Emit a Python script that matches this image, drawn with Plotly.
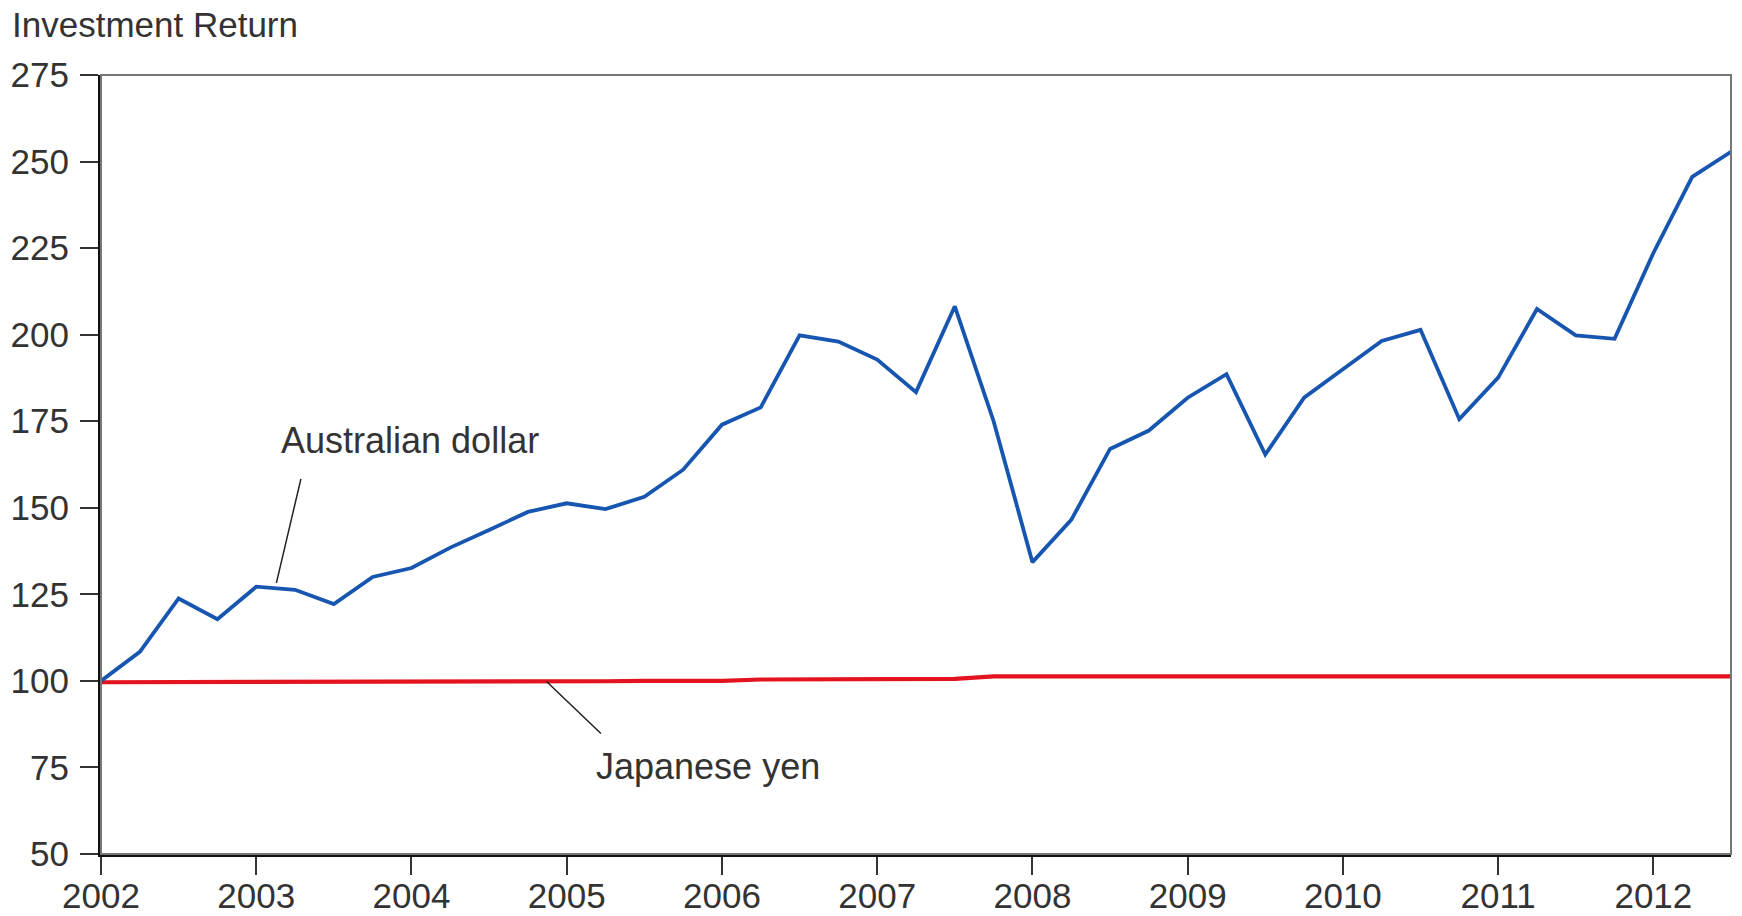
import plotly.graph_objects as go

quarters = [2002 + 0.25 * i for i in range(43)]

aud = [100, 108.4, 123.8, 117.8, 127.2, 126.3, 122.2, 130.0, 132.6, 138.5, 143.6, 148.8,
       151.3, 149.6, 153.2, 161.0, 174.0, 179.0, 199.8, 198.0, 192.8, 183.4, 208.2, 175.0,
       134.3, 146.5, 167.0, 172.3, 181.8, 188.6, 165.4, 181.8, 190.0, 198.2, 201.4, 175.6,
       187.6, 207.4, 199.8, 198.8, 223.6, 245.6, 252.8]

jpy = [99.6, 99.6, 99.6, 99.6, 99.7, 99.7, 99.7, 99.7, 99.8, 99.8, 99.8, 99.9,
       99.9, 99.9, 100.0, 100.0, 100.0, 100.4, 100.5, 100.5, 100.5, 100.6, 100.6, 101.3,
       101.3, 101.3, 101.2, 101.2, 101.1, 101.1, 101.0, 101.0, 101.0, 101.0, 101.0, 101.0,
       101.1, 101.1, 101.1, 101.2, 101.2, 101.3, 101.3]

year_ticks = list(range(2002, 2013))
y_ticks = [50, 75, 100, 125, 150, 175, 200, 225, 250, 275]

FONT = "Liberation Sans, Arial, Helvetica, sans-serif"
TXT = "#333333"

fig = go.Figure()
fig.add_trace(go.Scatter(x=quarters, y=jpy, mode="lines",
                         line=dict(color="#e3131f", width=4.2), name="Japanese yen"))
fig.add_trace(go.Scatter(x=quarters, y=aud, mode="lines",
                         line=dict(color="#1655b0", width=3.8), name="Australian dollar"))

fig.update_layout(
    width=1742, height=916,
    margin=dict(l=101, r=11, t=75, b=62),
    paper_bgcolor="white", plot_bgcolor="white",
    showlegend=False,
    font=dict(family=FONT, size=35, color=TXT),
    xaxis=dict(range=[2002, 2012.5], tickmode="array", tickvals=year_ticks,
               ticktext=[str(y) for y in year_ticks], automargin=False,
               showgrid=False, zeroline=False, showline=True, linecolor="#111111",
               linewidth=3, ticks="outside", ticklen=18, tickwidth=1.5,
               tickcolor="#333333", ticklabelstandoff=-9,
               tickfont=dict(size=35, color=TXT)),
    yaxis=dict(range=[50, 275], tickmode="array", tickvals=y_ticks, automargin=False,
               showgrid=False, zeroline=False, showline=True, linecolor="#111111",
               linewidth=3, ticks="outside", ticklen=18, tickwidth=1.5,
               tickcolor="#333333", ticklabelstandoff=4,
               tickfont=dict(size=35, color=TXT)),
    shapes=[dict(type="rect", xref="paper", yref="paper", x0=0, x1=1, y0=0, y1=1,
                 line=dict(color="#777777", width=2), layer="above")],
    annotations=[
        dict(text="Investment Return", xref="paper", yref="paper", x=0, y=1.0,
             xshift=-91, yshift=51, xanchor="left", yanchor="middle", showarrow=False,
             font=dict(size=35, color=TXT)),
        dict(text="Australian dollar", x=2003.99, y=169.4, showarrow=False,
             xanchor="center", yanchor="middle", font=dict(size=36, color=TXT)),
        dict(text="", x=2003.13, y=128.3, ax=2003.29, ay=158.8,
             axref="x", ayref="y", showarrow=True, arrowhead=0, arrowwidth=1.5,
             arrowcolor="#222222", standoff=0, startstandoff=0),
        dict(text="Japanese yen", x=2005.91, y=75.4, showarrow=False,
             xanchor="center", yanchor="middle", font=dict(size=36, color=TXT)),
        dict(text="", x=2004.87, y=99.8, ax=2005.23, ay=84.4,
             axref="x", ayref="y", showarrow=True, arrowhead=0, arrowwidth=1.5,
             arrowcolor="#222222", standoff=0, startstandoff=0),
    ],
)

fig.write_html("out.html", config={"displayModeBar": False},
               post_script="document.body.style.margin='0';document.body.style.overflow='hidden';")
